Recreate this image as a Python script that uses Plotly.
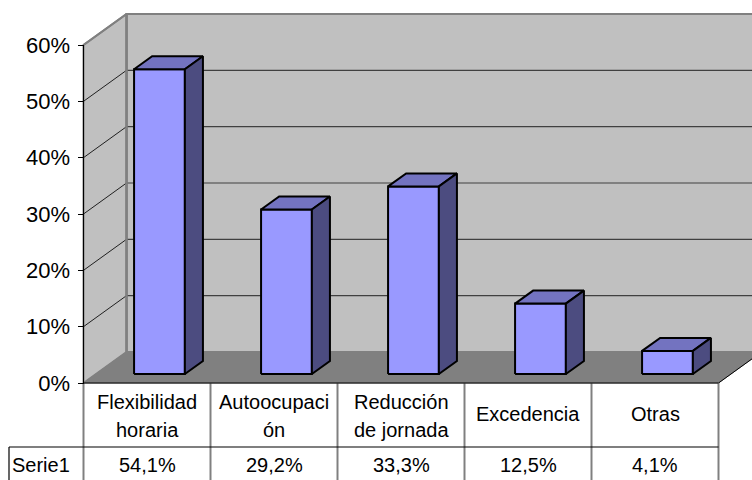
import plotly.graph_objects as go

# ---------------- data ----------------
categories = ["Flexibilidad horaria", "Autoocupación", "Reducción de jornada", "Excedencia", "Otras"]
header_lines = [["Flexibilidad", "horaria"], ["Autoocupaci", "ón"], ["Reducción", "de jornada"],
                ["Excedencia"], ["Otras"]]
values = [54.1, 29.2, 33.3, 12.5, 4.1]
value_labels = ["54,1%", "29,2%", "33,3%", "12,5%", "4,1%"]
series_name = "Serie1"
y_ticks = [0, 10, 20, 30, 40, 50, 60]
y_tick_labels = [f"{t}%" for t in y_ticks]

# ---------------- layout calibration ----------------
W, H = 752, 480
PX_PER_CAT = 127.0
X0_PX = 147.0          # pixel of first category centre (front plane)
PX_PER_PCT = 5.6333
Y0_PX = 383.0          # pixel of 0 % (front plane)
x_range = [(0 - X0_PX) / PX_PER_CAT, (W - X0_PX) / PX_PER_CAT]
y_range = [(Y0_PX - H) / PX_PER_PCT, Y0_PX / PX_PER_PCT]

DX = 43.0 / PX_PER_CAT      # depth offset (full depth) in category units
DY = 31.0 / PX_PER_PCT      # depth offset in percent units
YMAX = max(y_ticks)
N = len(categories)
XL, XR = -0.5, N - 0.5
BAR_W = 0.40
D0, D1 = 0.29, 0.71

FONT = "Liberation Sans, Arial, sans-serif"
TABLE_FONT = 20


def P(x, y, d):
    return x + d * DX, y + d * DY


def poly(points, fill, line_color, line_width):
    xs = [p[0] for p in points] + [points[0][0]]
    ys = [p[1] for p in points] + [points[0][1]]
    return go.Scatter(x=xs, y=ys, mode="lines", fill="toself", fillcolor=fill,
                      line=dict(color=line_color, width=line_width),
                      hoverinfo="skip", showlegend=False)


def seg(p1, p2, color, width):
    return go.Scatter(x=[p1[0], p2[0]], y=[p1[1], p2[1]], mode="lines",
                      line=dict(color=color, width=width),
                      hoverinfo="skip", showlegend=False)


fig = go.Figure()

# walls and floor
fig.add_trace(poly([P(XL, 0, 1), P(XR, 0, 1), P(XR, YMAX, 1), P(XL, YMAX, 1)],
                   "#C0C0C0", "#808080", 2))
fig.add_trace(poly([P(XL, 0, 0), P(XL, 0, 1), P(XL, YMAX, 1), P(XL, YMAX, 0)],
                   "#C0C0C0", "#808080", 2))
fig.add_trace(poly([P(XL, 0, 0), P(XR, 0, 0), P(XR, 0, 1), P(XL, 0, 1)],
                   "#808080", "#808080", 1))

# gridlines
for t in y_ticks[1:]:
    if t < YMAX:
        fig.add_trace(seg(P(XL, t, 1), P(XR, t, 1), "#404040", 1.2))
        fig.add_trace(seg(P(XL, t, 0), P(XL, t, 1), "#202020", 1))
# wall edges
fig.add_trace(seg(P(XL, 0, 1), P(XL, YMAX, 1), "#808080", 2.5))
fig.add_trace(seg(P(XL, YMAX, 0), P(XL, YMAX, 1), "#808080", 2))
fig.add_trace(seg(P(XL, YMAX, 1), P(XR, YMAX, 1), "#808080", 2))
# front axis line & floor edges
fig.add_trace(seg(P(XL, 0, 0), P(XL, YMAX, 0), "#000000", 1))
fig.add_trace(seg(P(XR, 0, 0), P(XR, 0, 1), "#000000", 1))

# bars
for i, v in enumerate(values):
    xl, xr = i - BAR_W / 2, i + BAR_W / 2
    fig.add_trace(poly([P(xl, 0, D0), P(xr, 0, D0), P(xr, v, D0), P(xl, v, D0)],
                       "#9999FF", "#000000", 2))
    fig.add_trace(poly([P(xl, v, D0), P(xr, v, D0), P(xr, v, D1), P(xl, v, D1)],
                       "#7373C0", "#000000", 2))
    fig.add_trace(poly([P(xr, 0, D0), P(xr, 0, D1), P(xr, v, D1), P(xr, v, D0)],
                       "#4C4C80", "#000000", 2))

# ---------------- data table ----------------
ROW1_BOTTOM = -64.0 / PX_PER_PCT
TABLE_BOTTOM = y_range[0] - 2
LABEL_LEFT = (9 - X0_PX) / PX_PER_CAT
for k in range(N + 1):
    xk = k - 0.5
    fig.add_trace(seg((xk, 0), (xk, TABLE_BOTTOM), "#808080", 2))
fig.add_trace(seg((XL, 0), (XR, 0), "#000000", 1.2))
fig.add_trace(seg((LABEL_LEFT, ROW1_BOTTOM), (XR, ROW1_BOTTOM), "#000000", 1.2))
fig.add_trace(seg((LABEL_LEFT, ROW1_BOTTOM), (LABEL_LEFT, TABLE_BOTTOM), "#000000", 1.2))

annotations = []
LINE_PITCH = 28.0 / PX_PER_PCT
for i, lines in enumerate(header_lines):
    if len(lines) == 1:
        ys = [(Y0_PX - 413.5) / PX_PER_PCT]
    else:
        first = (Y0_PX - 402.0) / PX_PER_PCT
        ys = [first - j * LINE_PITCH for j in range(len(lines))]
    for txt, yy in zip(lines, ys):
        annotations.append(dict(x=i, y=yy, text=txt, showarrow=False, xanchor="center",
                                yanchor="middle",
                                font=dict(family=FONT, size=TABLE_FONT, color="#000")))
ROW2_Y = (Y0_PX - 465.0) / PX_PER_PCT
for i, lab in enumerate(value_labels):
    annotations.append(dict(x=i, y=ROW2_Y, text=lab, showarrow=False, xanchor="center",
                            yanchor="middle",
                            font=dict(family=FONT, size=TABLE_FONT, color="#000")))
annotations.append(dict(x=(10 - X0_PX) / PX_PER_CAT, y=ROW2_Y, text=series_name,
                        showarrow=False, xanchor="left", yanchor="middle",
                        font=dict(family=FONT, size=TABLE_FONT, color="#000")))

fig.update_layout(
    width=W, height=H,
    margin=dict(l=0, r=0, t=0, b=0),
    paper_bgcolor="white", plot_bgcolor="white",
    showlegend=False,
    annotations=annotations,
    xaxis=dict(range=x_range, visible=False, fixedrange=True),
    yaxis=dict(range=y_range, anchor="free", position=(X0_PX - 0.5 * PX_PER_CAT) / W,
               tickvals=y_ticks, ticktext=y_tick_labels, ticks="outside", ticklen=6,
               tickcolor="#000", tickwidth=1, showgrid=False, zeroline=False, showline=False,
               tickfont=dict(family=FONT, size=22, color="#000"), ticklabelstandoff=3,
               fixedrange=True),
)

fig.write_html("out.html", config={"displayModeBar": False},
               post_script="document.body.style.margin='0';document.body.style.overflow='hidden';")
